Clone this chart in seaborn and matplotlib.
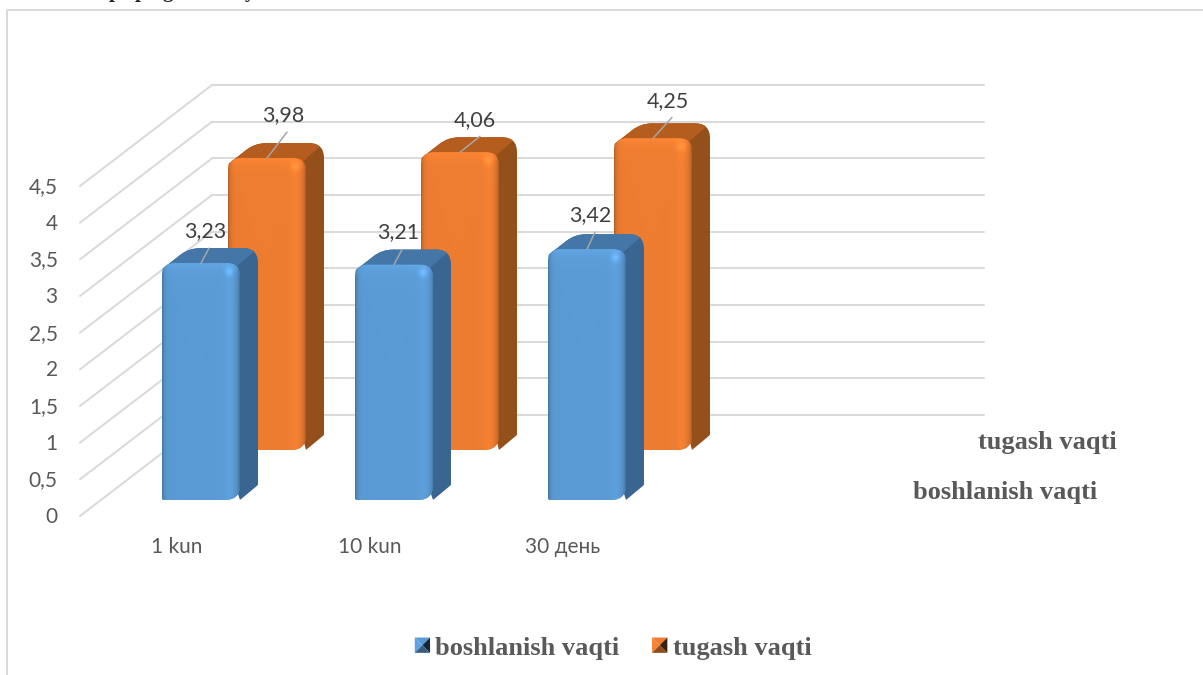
import numpy as np
import matplotlib
matplotlib.use("Agg")
import matplotlib.pyplot as plt
from matplotlib.lines import Line2D
from matplotlib.patches import PathPatch, Polygon, Patch
from matplotlib.path import Path
from matplotlib.transforms import IdentityTransform
from matplotlib.legend_handler import HandlerBase
import seaborn as sns

categories = ["1 kun", "10 kun", "30 день"]
start_values = [3.23, 3.21, 3.42]
end_values = [3.98, 4.06, 4.25]
series_names = ["boshlanish vaqti", "tugash vaqti"]
value_ticks = [0, 0.5, 1, 1.5, 2, 2.5, 3, 3.5, 4, 4.5]
clipped_heading = ["p", "p", "g", "y"]

W, H = 1203, 675
GREY = "#D9D9D9"
TEXT = "#595959"
SANS = ["Lato", "Noto Sans", "DejaVu Sans"]
SERIF = "Liberation Serif"

BLUE = dict(front="#5B9BD5", side="#3A6591", top="#4477A8")
ORANGE = dict(front="#ED7D31", side="#94501B", top="#B55D1E")

sns.set_theme(style="white")
fig = plt.figure(figsize=(W / 100, H / 100), dpi=100, facecolor="white")


def px_axes(left, right, top, bottom, zorder):
    """Axes placed by pixel edges, y measured from the top of the figure."""
    ax = fig.add_axes([left / W, 1 - bottom / H, (right - left) / W, (bottom - top) / H])
    ax.set_zorder(zorder)
    ax.patch.set_alpha(0)
    for s in ax.spines.values():
        s.set_visible(False)
    return ax


def rounded(corners, radii):
    """Closed path through corners, each one rounded by its radius."""
    pts = [np.asarray(c, float) for c in corners]
    n = len(pts)
    verts, codes = [], []
    for i, (p, r) in enumerate(zip(pts, radii)):
        prev_dir = pts[i - 1] - p
        next_dir = pts[(i + 1) % n] - p
        a = p + prev_dir / np.linalg.norm(prev_dir) * r
        b = p + next_dir / np.linalg.norm(next_dir) * r
        verts.append(a)
        codes.append(Path.MOVETO if i == 0 else Path.LINETO)
        verts += [p, b]
        codes += [Path.CURVE3, Path.CURVE3]
    verts.append(verts[0])
    codes.append(Path.CLOSEPOLY)
    return Path(verts, codes)


def face_image(color, w, h):
    """RGB shading of a bar's front face: side edges, sheen band and top bevel."""
    rgb = np.array(matplotlib.colors.to_rgb(color))
    xs = np.arange(w)
    shade = np.ones((h, w))
    shade *= 1 - 0.22 * np.exp(-xs / 2.2)
    shade *= 1 + 0.04 * np.exp(-((xs - (w - 11)) / 5.0) ** 2)
    shade *= 1 - 0.25 * np.exp(-(w - 1 - xs) / 2.5)
    ys = np.arange(h)[:, None]
    shade *= 1 + 0.07 * np.exp(-ys / 7.0)
    shade *= 1 + 0.16 * np.exp(-((ys - 8) / 4.0) ** 2 - ((xs - (w - 11)) / 4.0) ** 2)
    return np.clip(shade[..., None] * rgb, 0, 1)


def draw_block(ax, bar, palette):
    """Extrude one seaborn bar into a bevelled block with top and side faces."""
    identity = IdentityTransform()
    (x0, y0), (x1, y1) = ax.transData.transform(
        [(bar.get_x(), 0), (bar.get_x() + bar.get_width(), bar.get_height())])
    dx, dy = 18, 15
    outline = rounded(
        [(x0, y1 - 6), (x0 + 27, y1 + dy), (x1 + dx, y1 + dy), (x1 + dx, y0 + dy), (x1, y0)],
        [2, 11, 15, 1, 1])
    ax.add_patch(PathPatch(outline, fc=palette["side"], ec="none", transform=identity, zorder=3))
    top = Polygon([(x0, y1 - 6), (x0 + 27, y1 + dy + 1), (x1 + dx + 1, y1 + dy + 1), (x1 - 4, y1 - 4)],
                  fc=palette["top"], ec="none", transform=identity, zorder=3.1)
    ax.add_patch(top)
    top.set_clip_path(PathPatch(outline, transform=identity))

    front = rounded([(x0, y1), (x1, y1), (x1, y0), (x0, y0)], [13, 13, 15, 2])
    bar.set_zorder(3.2)
    bar.set_clip_path(front, identity)
    w, h = int(round(x1 - x0)), int(round(y1 - y0))
    img = ax.imshow(face_image(palette["front"], w, h), aspect="auto", interpolation="bilinear",
                    extent=(bar.get_x(), bar.get_x() + bar.get_width(), 0, bar.get_height()),
                    zorder=3.3)
    img.set_clip_path(front, identity)


def draw_series(values, palette, left, right, top, bottom, label_offsets, leader_offsets, zorder):
    ax = px_axes(left, right, top, bottom, zorder)
    sns.barplot(x=categories, y=values, color=palette["front"], width=78 / 193,
                saturation=1, ax=ax, edgecolor="none")
    ax.set_xlim(-0.5, 2.5)
    ax.set_ylim(0, 4.5)
    ax.set_autoscale_on(False)
    ax.set_xticks([])
    ax.set_yticks([])
    ax.set_xlabel("")
    ax.set_ylabel("")
    for bar, value, lab, lead in zip(list(ax.patches), values, label_offsets, leader_offsets):
        draw_block(ax, bar, palette)
        cx = bar.get_x() + bar.get_width() / 2
        ax.annotate("", xy=(cx, value), xycoords="data",
                    xytext=(lead[0], lead[1]), textcoords="offset pixels",
                    arrowprops=dict(arrowstyle="-", color="#A6A6A6", lw=1.1,
                                    shrinkA=0, shrinkB=0, relpos=(0, 0)),
                    zorder=4, annotation_clip=False)
        ax.annotate(f"{value:.2f}".replace(".", ","), xy=(cx, value), xycoords="data",
                    xytext=lab, textcoords="offset pixels", ha="center", va="center",
                    fontsize=15.5, color="#404040", family=SANS, zorder=5,
                    annotation_clip=False)
    return ax


# Back wall carrying the horizontal gridlines
wall = px_axes(212, 984, 85, 415, 0)
wall.set_xlim(0, 1)
wall.set_ylim(0, 4.5)
wall.set_xticks([])
wall.set_yticks(value_ticks)
wall.tick_params(left=False, labelleft=False)
wall.yaxis.grid(True, color=GREY, lw=1.4)
wall.set_axisbelow(True)
for line in wall.get_ygridlines():
    line.set_clip_on(False)

# Side wall: one slanted rule for every value level
for v in value_ticks:
    bx, by = wall.transData.transform((0, v))
    wall.add_line(Line2D([bx - 132, bx], [by - 101, by], color=GREY, lw=1.4,
                         transform=IdentityTransform(), clip_on=False))

# Value and category labels sit on the front plane of the box
axis = px_axes(80, 659, 185, 515, 0.5)
axis.set_xlim(-97 / 193, -97 / 193 + 3)
axis.set_ylim(0, 4.5)
axis.set_xticks(range(len(categories)), categories)
axis.set_yticks(value_ticks, [str(v).replace(".", ",") for v in value_ticks])
axis.tick_params(length=0, labelcolor=TEXT, labelsize=15)
axis.tick_params(axis="y", pad=16)
axis.tick_params(axis="x", pad=16)
for t in axis.get_xticklabels() + axis.get_yticklabels():
    t.set_family(SANS)

draw_series(end_values, ORANGE, 170.5, 749.5, 120, 450,
            [(16, 43), (15, 32), (15, 37)],
            [(20, 26), (20, 16), (19, 21)], 1)
draw_series(start_values, BLUE, 104.5, 683.5, 170, 500,
            [(4, 32), (4, 33), (3, 34)],
            [(8, 15), (8, 15), (8, 17)], 2)

# Outer frame of the chart area
fig.add_artist(Line2D([7 / W, 7 / W, 1], [0, 1 - 10 / H, 1 - 10 / H], color=GREY, lw=1.4))

# Series names along the depth axis
fig.text(1047 / W, 1 - 442 / H, series_names[1], ha="center", va="center",
         family=SERIF, weight="bold", fontsize=19, color=TEXT)
fig.text(1005 / W, 1 - 492 / H, series_names[0], ha="center", va="center",
         family=SERIF, weight="bold", fontsize=19, color=TEXT)

# Last line of the paragraph above, running off the page edge
for ch, x in zip(clipped_heading, [115, 141, 168, 250]):
    fig.text(x / W, 1 + 3 / H, ch, ha="center", va="baseline",
             family=SERIF, fontsize=15, weight="bold", color="#222222")


class PyramidKey(HandlerBase):
    """Legend key shaded like a small bevelled square seen from above."""

    def create_artists(self, legend, orig, xd, yd, w, h, fontsize, trans):
        side = min(w, h)
        x0, y0 = xd + (w - side) / 2, -yd + (h - side) / 2
        x1, y1 = x0 + side, y0 + side
        c = (x0 + side / 2, y0 + side / 2)
        base = np.array(matplotlib.colors.to_rgb(orig.get_facecolor()))
        faces = [([(x0, y1), (x1, y1), c], 1.0),
                 ([(x0, y0), (x0, y1), c], 1.05),
                 ([(x1, y0), (x1, y1), c], 0.25),
                 ([(x0, y0), (x1, y0), c], 0.6)]
        return [Polygon(p, fc=np.clip(base * k, 0, 1), ec="none", transform=trans) for p, k in faces]


handles = [Patch(color=BLUE["front"], label=series_names[0]),
           Patch(color=ORANGE["front"], label=series_names[1])]
fig.legend(handles=handles, ncol=2, loc="center left",
           bbox_to_anchor=(391 / W, 1 - 648 / H), frameon=False,
           handler_map={Patch: PyramidKey()}, handlelength=0.58, handleheight=0.58,
           handletextpad=0.2, columnspacing=1.23,
           prop=dict(family=SERIF, weight="bold", size=19), labelcolor=TEXT)

fig.savefig("out.png", dpi=100, facecolor="white")
